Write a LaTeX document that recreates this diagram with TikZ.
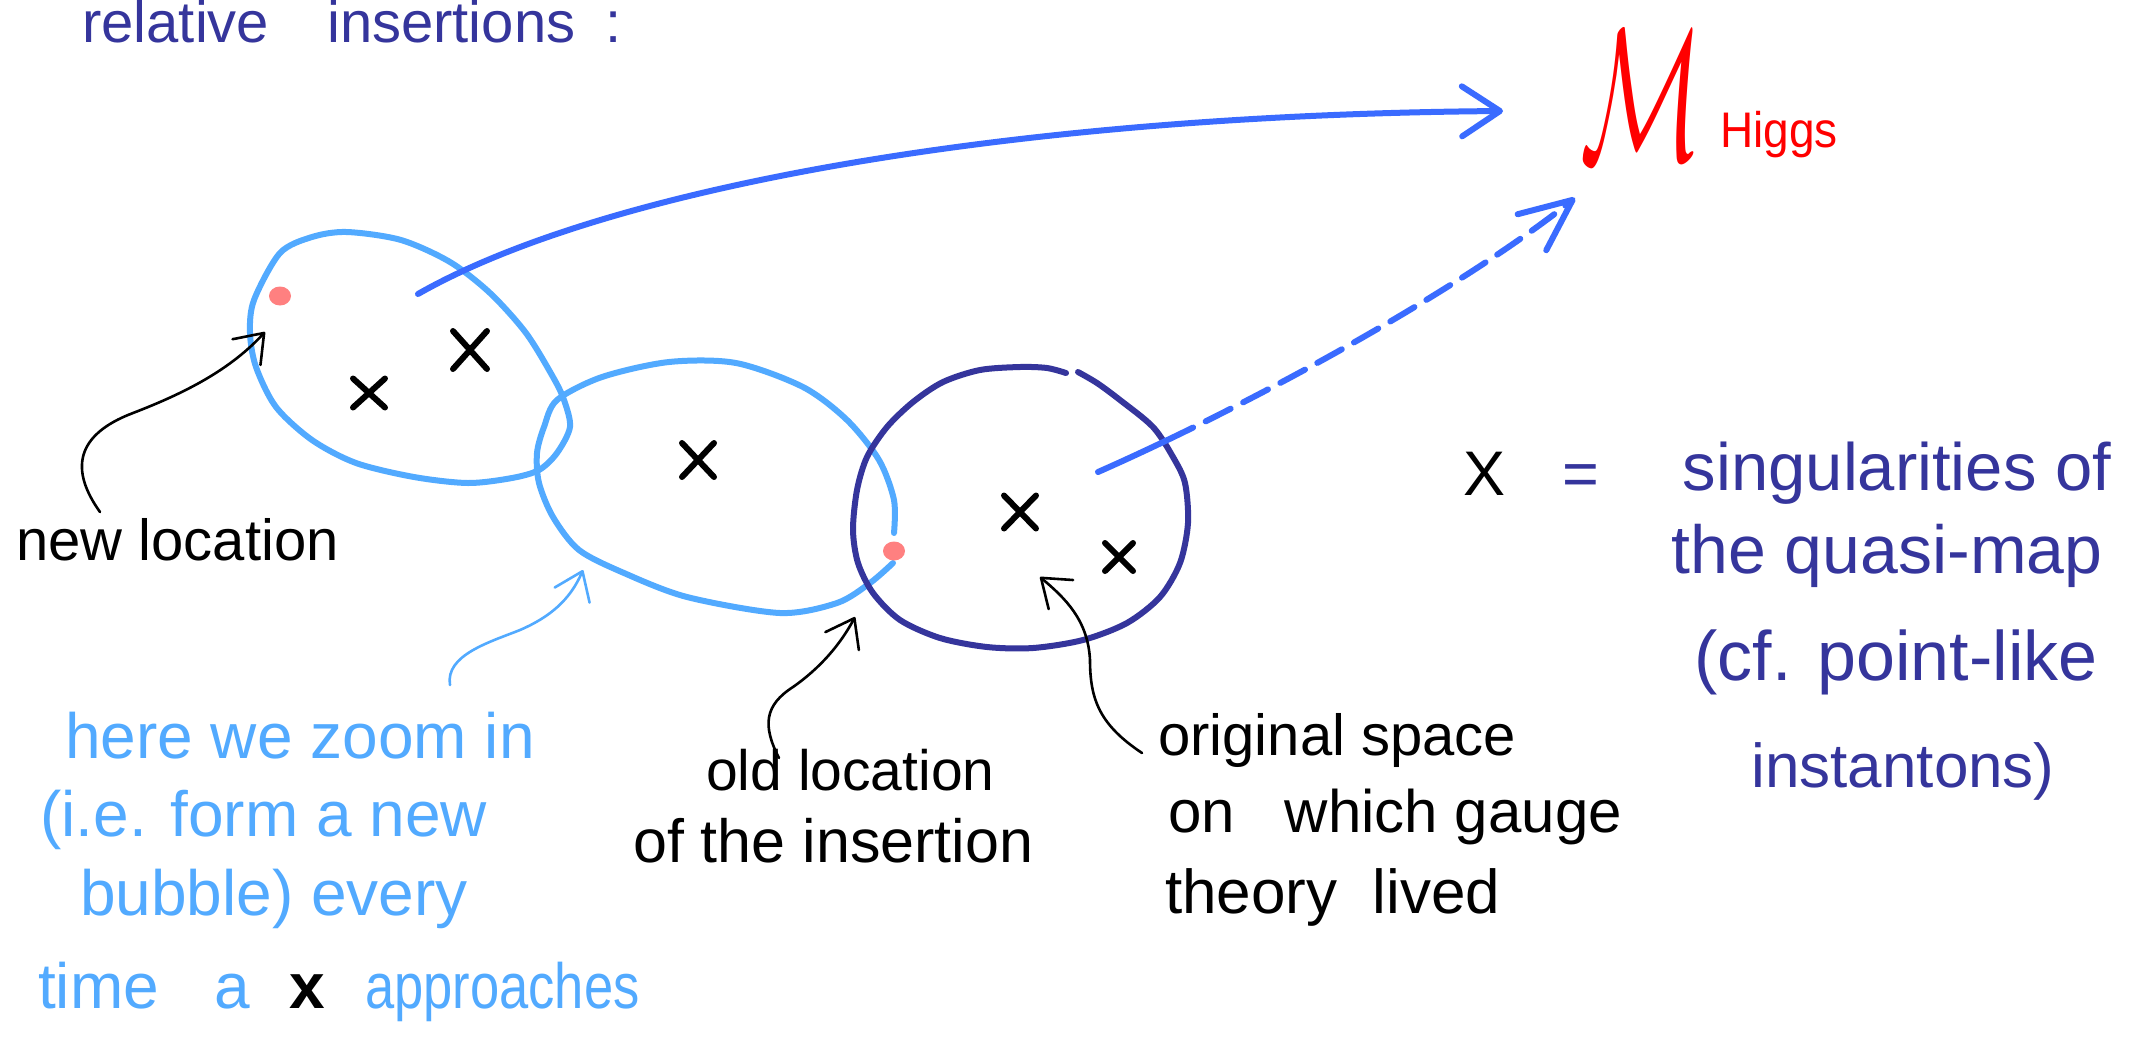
\documentclass[tikz,border=0pt]{standalone}
\usepackage{fontspec}
\setmainfont{Liberation Sans}
\usepackage{graphicx}
\DeclareFontShape{OMS}{cmsy}{m}{n}{<->cmsy10}{}
\usetikzlibrary{arrows.meta,shapes.misc,shapes.geometric}
\definecolor{lblue}{HTML}{52AAFF}
\definecolor{bblue}{HTML}{3A6BFF}
\definecolor{dblue}{HTML}{35359C}
\definecolor{salmon}{HTML}{FF8080}
\definecolor{hred}{HTML}{FF0000}
\tikzset{
  bub/.style={line width=6pt, line cap=round, line join=round},
  xmark/.style={cross out, draw=black, line width=6pt, line cap=round, inner sep=0pt},
  dotn/.style={ellipse, fill=salmon, inner sep=0pt, minimum width=22pt, minimum height=19pt},
  note/.style={line width=2.6pt, line cap=round, line join=round, -{Straight Barb[length=26pt,width=38pt,round]}},
  bigarrow/.style={line width=6pt, bblue, line cap=round},
  txt/.style={anchor=base west, inner sep=0pt},
  ctxt/.style={anchor=base, inner sep=0pt},
}
\begin{document}
\begin{tikzpicture}[x=1pt,y=-1pt]
\useasboundingbox (0,0) rectangle (2136,1050);
\fill[white] (0,0) rectangle (2136,1050);

% title
\node[txt, text=dblue, font=\fontsize{58}{60}\selectfont] (title) at (82,42) {relative\hspace{58pt}insertions\hspace{30pt}:};

% bubbles
\draw[bub, lblue] plot[smooth cycle] coordinates {(347,232) (401,240) (450,262) (490,293) (526,333) (553,377) (564,400) (570,427) (557,453) (539,470) (512,478) (468,483) (414,477) (356,463) (312,440) (276,407) (256,367) (250,333) (254,300) (280,253) (312,237)};
\draw[bub, lblue] plot[smooth] coordinates {(894,533) (894,500) (879,460) (847,420) (803,387) (736,363) (669,362) (602,377) (557,400) (544,427) (537,453) (539,483) (553,517) (579,550) (624,573) (687,597) (780,613) (837,603) (870,583) (893,563)};
\draw[bub, dblue] plot[smooth] coordinates {(1078,372) (1097,383) (1120,400) (1153,427) (1173,457) (1185,483) (1188,523) (1180,563) (1160,597) (1127,623) (1083,640) (1033,648) (987,647) (940,638) (900,620) (873,593) (858,563) (853,530) (857,490) (867,457) (887,427) (913,402) (943,382) (980,370) (1020,367) (1047,368) (1066,373)};

% insertion dots
\node[dotn] (dot1) at (280,296) {};
\node[dotn] (dot2) at (894,551) {};

% singularities
\node[xmark, minimum width=28pt, minimum height=32pt] (xa) at (470,350) {};
\node[xmark, minimum width=26pt, minimum height=23pt] (xb) at (369,393) {};
\node[xmark, minimum width=26pt, minimum height=28pt] (xc) at (698,460) {};
\node[xmark, minimum width=26pt, minimum height=27pt] (xd) at (1020,512) {};
\node[xmark, minimum width=22pt, minimum height=22pt] (xe) at (1119,557) {};

% maps to M_Higgs
\coordinate (a1) at (418,294);
\coordinate (a2) at (1503,111);
\draw[bigarrow, -{Straight Barb[length=38pt,width=50pt,round]}] (a1) .. controls (600,190) and (1000,115) .. (a2);
\coordinate (d1) at (1098,472);
\coordinate (d2) at (1575,198);
\draw[bigarrow, dash pattern=on 105pt off 14pt on 28pt off 14pt on 28pt off 14pt on 28pt off 14pt on 28pt off 14pt on 28pt off 14pt on 28pt off 14pt on 28pt off 14pt on 28pt off 14pt on 28pt off 14pt on 28pt off 14pt on 28pt off 14pt on 28pt off 14pt, -{Straight Barb[length=52pt,width=46pt,round]}] (d1) .. controls (1250,405) and (1458,291) .. (d2);

% M_Higgs
\node[anchor=south west, inner sep=0pt, text=hred] (M) at (1580,160) {\resizebox*{122pt}{128pt}{\fontsize{40}{40}\selectfont$\mathcal{M}$}};
\node[txt, text=hred, font=\fontsize{50}{52}\selectfont] (higgs) at (1720,147) {\scalebox{0.92}[1]{Higgs}};

% annotation arrows
\coordinate (n0) at (100,512);
\coordinate (n1) at (265,332);
\draw[note, black] (n0) .. controls (70,470) and (75,435) .. (133,413) .. controls (185,393) and (230,370) .. (n1);
\coordinate (z0) at (450,685);
\coordinate (z1) at (583,570);
\draw[note, lblue] (z0) .. controls (445,655) and (490,642) .. (520,630) .. controls (550,617) and (570,600) .. (z1);
\coordinate (o0) at (779,758);
\coordinate (o1) at (855,617);
\draw[note, black] (o0) .. controls (762,725) and (765,705) .. (793,687) .. controls (820,668) and (840,645) .. (o1);
\coordinate (g0) at (1142,753);
\coordinate (g1) at (1040,577);
\draw[note, black] (g0) .. controls (1100,725) and (1090,700) .. (1090,660) .. controls (1088,620) and (1065,598) .. (g1);

% labels
\node[txt, font=\fontsize{58}{60}\selectfont] (newloc) at (16,560) {new location};

\node[txt, text=lblue, font=\fontsize{64}{66}\selectfont] (zl1) at (65,758) {here we zoom in};
\node[txt, text=lblue, font=\fontsize{64}{66}\selectfont] (zl2) at (40,836) {(i.e. form a new};
\node[txt, text=lblue, font=\fontsize{64}{66}\selectfont] (zl3) at (80,915) {bubble) every};
\node[txt, text=lblue, font=\fontsize{64}{66}\selectfont] (zl4) at (38,1008) {time\hspace{55pt}a\hspace{40pt}{\color{black}\bfseries x}\hspace{40pt}\scalebox{0.82}[1]{approaches}};

\node[txt, font=\fontsize{57}{60}\selectfont] (old1) at (706,790) {old location};
\node[txt, font=\fontsize{61}{64}\selectfont] (old2) at (633,862) {of the insertion};

\node[txt, font=\fontsize{58}{60}\selectfont] (orig1) at (1158,755) {original space};
\node[txt, font=\fontsize{60}{62}\selectfont] (orig2) at (1168,832) {on\hspace{50pt}which gauge};
\node[txt, font=\fontsize{62}{64}\selectfont] (orig3) at (1165,913) {theory\hspace{35pt}lived};

% legend
\node[txt, font=\fontsize{63}{65}\selectfont] (legx) at (1463,495) {X};
\node[txt, text=dblue, font=\fontsize{63}{65}\selectfont] (legeq) at (1562,495) {=};
\node[ctxt, text=dblue, font=\fontsize{67}{70}\selectfont] (leg1) at (1897,490) {singularities of};
\node[ctxt, text=dblue, font=\fontsize{68}{70}\selectfont] (leg2) at (1887,573) {the quasi-map};
\node[ctxt, text=dblue, font=\fontsize{70}{72}\selectfont] (leg3) at (1896,680) {(cf. point-like};
\node[ctxt, text=dblue, font=\fontsize{62}{64}\selectfont] (leg4) at (1903,787) {instantons)};
\end{tikzpicture}
\end{document}
